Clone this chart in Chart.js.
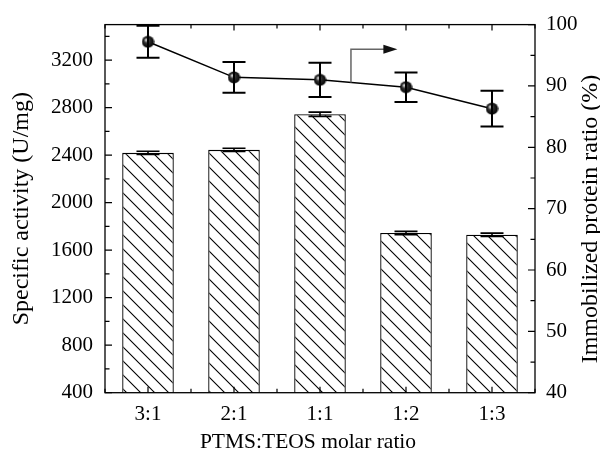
<!DOCTYPE html>
<html>
<head>
<meta charset="utf-8">
<script src="https://cdn.jsdelivr.net/npm/chart.js@4/dist/chart.umd.min.js"></script>
<style>
html,body{margin:0;padding:0;background:#fff;}
#wrap{width:600px;height:452px;position:relative;}
</style>
</head>
<body>
<div id="wrap"><canvas id="c" width="600" height="452"></canvas></div>
<script>
const categories = ['3:1', '2:1', '1:1', '1:2', '1:3'];
const activity = [2420, 2445, 2745, 1745, 1730];
const activityErr = [14, 14, 18, 14, 14];
const ratio = [97.2, 91.4, 91.0, 89.8, 86.3];
const ratioErr = [2.6, 2.5, 2.8, 2.4, 2.9];
const leftTicks = [400, 800, 1200, 1600, 2000, 2400, 2800, 3200];
const rightTicks = [40, 50, 60, 70, 80, 90, 100];
const leftTitle = 'Specific activity (U/mg)';
const rightTitle = 'Immobilized protein ratio (%)';
const xTitle = 'PTMS:TEOS molar ratio';
const arrowFrom = 2.36, arrowTo = 2.9, arrowTopValue = 96.0;

const FONT = "'Liberation Serif', 'Times New Roman', serif";
const FS = 21;

function hatch() {
  const s = 14;
  const c = document.createElement('canvas');
  c.width = s; c.height = s;
  const g = c.getContext('2d');
  g.fillStyle = '#fff'; g.fillRect(0, 0, s, s);
  g.strokeStyle = '#000'; g.lineWidth = 1.1;
  g.beginPath();
  g.moveTo(-1, -1); g.lineTo(s + 1, s + 1);
  g.moveTo(-1, s - 1); g.lineTo(1, s + 1);
  g.moveTo(s - 1, -1); g.lineTo(s + 1, 1);
  g.stroke();
  return g.createPattern(c, 'repeat');
}
function sphere() {
  const d = 13;
  const c = document.createElement('canvas');
  c.width = d; c.height = d;
  const g = c.getContext('2d');
  const gr = g.createRadialGradient(4.5, 4.5, 0.5, 6.5, 6.5, 6.5);
  gr.addColorStop(0, '#d8d8d8');
  gr.addColorStop(0.35, '#303030');
  gr.addColorStop(1, '#000');
  g.fillStyle = gr;
  g.beginPath(); g.arc(6.5, 6.5, 6.1, 0, Math.PI * 2); g.fill();
  return c;
}

const frame = {
  id: 'frame',
  afterDatasetsDraw(chart) {
    const ctx = chart.ctx;
    const a = chart.chartArea;
    const y = chart.scales.y, y1 = chart.scales.y1, x = chart.scales.x;
    ctx.save();
    ctx.strokeStyle = '#000';
    ctx.lineWidth = 1.6;
    activity.forEach((v, i) => {
      const px = x.getPixelForValue(i);
      const t = y.getPixelForValue(v + activityErr[i]);
      const b = y.getPixelForValue(v - activityErr[i]);
      ctx.beginPath();
      ctx.moveTo(px, t); ctx.lineTo(px, b);
      ctx.moveTo(px - 11.5, t); ctx.lineTo(px + 11.5, t);
      ctx.moveTo(px - 11.5, b); ctx.lineTo(px + 11.5, b);
      ctx.stroke();
    });
    ctx.lineWidth = 2;
    ratio.forEach((v, i) => {
      const px = x.getPixelForValue(i);
      const t = y1.getPixelForValue(v + ratioErr[i]);
      const b = y1.getPixelForValue(v - ratioErr[i]);
      ctx.beginPath();
      ctx.moveTo(px, t); ctx.lineTo(px, b);
      ctx.moveTo(px - 11.5, t); ctx.lineTo(px + 11.5, t);
      ctx.moveTo(px - 11.5, b); ctx.lineTo(px + 11.5, b);
      ctx.stroke();
    });
    const i0 = Math.floor(arrowFrom), f = arrowFrom - i0;
    const ya = y1.getPixelForValue(ratio[i0]), yb = y1.getPixelForValue(ratio[i0 + 1]);
    const sy = ya + (yb - ya) * f;
    const sx = x.getPixelForValue(arrowFrom);
    const ty = y1.getPixelForValue(arrowTopValue);
    const ex = x.getPixelForValue(arrowTo);
    ctx.strokeStyle = '#666';
    ctx.lineWidth = 1.5;
    ctx.beginPath();
    ctx.moveTo(sx, sy); ctx.lineTo(sx, ty); ctx.lineTo(ex - 12, ty);
    ctx.stroke();
    ctx.fillStyle = '#111';
    ctx.beginPath();
    ctx.moveTo(ex, ty); ctx.lineTo(ex - 14, ty - 4.5); ctx.lineTo(ex - 14, ty + 4.5); ctx.closePath();
    ctx.fill();
    ctx.strokeStyle = '#000';
    ctx.lineWidth = 1.3;
    ctx.strokeRect(a.left, a.top, a.right - a.left, a.bottom - a.top);
    ctx.lineWidth = 1.2;
    ctx.beginPath();
    for (let v = 400; v <= 3500; v += 200) {
      const py = y.getPixelForValue(v);
      const L = (v % 400 === 0) ? 7 : 4.5;
      ctx.moveTo(a.left, py); ctx.lineTo(a.left + L, py);
    }
    for (let v = 40; v <= 100; v += 5) {
      const py = y1.getPixelForValue(v);
      const L = (v % 10 === 0) ? 7 : 4.5;
      ctx.moveTo(a.right, py); ctx.lineTo(a.right - L, py);
    }
    for (let k = -0.5; k <= categories.length - 0.5; k += 0.5) {
      const px = x.getPixelForValue(k);
      const L = (Math.abs(k % 1) < 0.01) ? 6 : 4;
      ctx.moveTo(px, a.bottom); ctx.lineTo(px, a.bottom - L);
      ctx.moveTo(px, a.top); ctx.lineTo(px, a.top + L);
    }
    ctx.stroke();
    ctx.fillStyle = '#000';
    ctx.textAlign = 'center';
    ctx.textBaseline = 'middle';
    // x axis title (slightly left of centre, as in the reference)
    ctx.font = "21.5px " + FONT;
    ctx.fillText(xTitle, 308, 442);
    // right axis title, reading bottom-to-top
    ctx.translate(591, 219);
    ctx.rotate(-Math.PI / 2);
    ctx.font = "24px " + FONT;
    ctx.fillText(rightTitle, 0, 0);
    ctx.restore();
  }
};

new Chart(document.getElementById('c'), {
  data: {
    labels: categories,
    datasets: [
      {
        type: 'line', data: ratio, yAxisID: 'y1', order: 0,
        borderColor: '#000', borderWidth: 1.5,
        pointStyle: sphere(), pointRadius: 6,
        tension: 0
      },
      {
        type: 'bar', data: activity, yAxisID: 'y', order: 1,
        backgroundColor: hatch(), borderColor: '#000', borderWidth: 1.3,
        barPercentage: 0.6, categoryPercentage: 1.0
      }
    ]
  },
  options: {
    responsive: false,
    animation: false,
    events: [],
    layout: { padding: { top: 22.5, left: 0, right: 0, bottom: 0 } },
    plugins: { legend: { display: false }, tooltip: { enabled: false } },
    scales: {
      x: {
        type: 'category', offset: true,
        grid: { display: false, drawTicks: false },
        border: { display: false },
        ticks: { color: '#000', font: { family: FONT, size: FS }, padding: 9 },
        title: { display: false },
        afterFit(s) { s.height = 59.3; }
      },
      y: {
        position: 'left', min: 400, max: 3500,
        grid: { display: false, drawTicks: false },
        border: { display: false },
        afterBuildTicks(s) { s.ticks = leftTicks.map(v => ({ value: v })); },
        ticks: { color: '#000', font: { family: FONT, size: FS }, padding: 12, callback: v => String(v) },
        title: { display: true, text: leftTitle, color: '#000', font: { family: FONT, size: 24, lineHeight: 1 }, padding: { top: 10, bottom: 0 } },
        afterFit(s) { s.width = 105; }
      },
      y1: {
        position: 'right', min: 40, max: 100,
        grid: { display: false, drawTicks: false },
        border: { display: false },
        afterBuildTicks(s) { s.ticks = rightTicks.map(v => ({ value: v })); },
        ticks: { color: '#000', font: { family: FONT, size: FS }, padding: 11, callback: v => String(v) },
        title: { display: false },
        afterFit(s) { s.width = 65; }
      }
    }
  },
  plugins: [frame]
});
</script>
</body>
</html>
